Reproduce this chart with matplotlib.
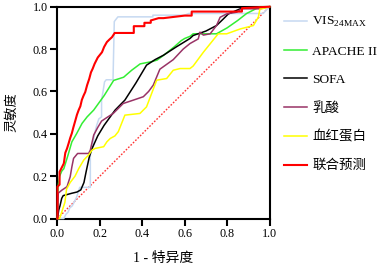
import matplotlib
matplotlib.use("Agg")
import matplotlib.pyplot as plt

plt.rcParams['font.family'] = ['Liberation Serif', 'Noto Sans CJK SC']
plt.rcParams['mathtext.fontset'] = 'custom'
plt.rcParams['mathtext.rm'] = 'Liberation Serif'

labels = [r'VIS$_{\mathregular{24MAX}}$', 'APACHE II', 'SOFA', '乳酸', '血红蛋白', '联合预测']
colors = ['#c6d9f1', '#33ee33', '#000000', '#993366', '#ffff00', '#ff0000']

vis_x = [0, 0.03, 0.04, 0.05, 0.058, 0.07, 0.08, 0.09, 0.105, 0.155, 0.155, 0.165, 0.175, 0.185, 0.195,
         0.208, 0.208, 0.215, 0.222, 0.23, 0.262, 0.268, 0.285, 0.45, 0.45, 0.6, 0.62, 0.97, 1.0]
vis_y = [0, 0, 0.02, 0.03, 0.05, 0.06, 0.08, 0.1, 0.147, 0.147, 0.3, 0.34, 0.4, 0.44, 0.47,
         0.48, 0.56, 0.6, 0.645, 0.655, 0.655, 0.93, 0.952, 0.952, 0.96, 0.96, 0.968, 0.968, 1.0]

apache_x = [0, 0.003, 0.01, 0.021, 0.03, 0.05, 0.068, 0.09, 0.116, 0.14, 0.171, 0.22, 0.265, 0.312, 0.35,
            0.39, 0.446, 0.47, 0.5, 0.55, 0.584, 0.6, 0.625, 0.64, 0.75, 0.8, 0.85, 0.892, 0.955, 1.0]
apache_y = [0, 0.15, 0.2, 0.225, 0.235, 0.3, 0.362, 0.4, 0.449, 0.48, 0.512, 0.58, 0.652, 0.667, 0.7,
            0.73, 0.741, 0.748, 0.77, 0.81, 0.84, 0.85, 0.86, 0.872, 0.872, 0.9, 0.935, 0.968, 1.0, 1.0]

sofa_x = [0, 0.006, 0.012, 0.02, 0.027, 0.067, 0.092, 0.11, 0.125, 0.135, 0.15, 0.163, 0.19, 0.22,
          0.272, 0.318, 0.37, 0.42, 0.46, 0.5, 0.56, 0.625, 0.64, 0.7, 0.75, 0.78, 0.806, 0.869, 0.955, 1.0]
sofa_y = [0, 0.04, 0.06, 0.095, 0.108, 0.119, 0.125, 0.135, 0.17, 0.22, 0.29, 0.33, 0.39, 0.44,
          0.512, 0.559, 0.64, 0.724, 0.75, 0.771, 0.81, 0.85, 0.864, 0.885, 0.911, 0.94, 0.966, 0.993, 0.998, 1.0]

lac_x = [0, 0.004, 0.021, 0.045, 0.06, 0.068, 0.076, 0.095, 0.147, 0.155, 0.171, 0.19, 0.208, 0.235,
         0.263, 0.31, 0.358, 0.405, 0.43, 0.452, 0.483, 0.546, 0.593, 0.625, 0.664, 0.672, 0.688, 0.72,
         0.75, 0.767, 0.798, 0.845, 0.869, 0.955, 1.0]
lac_y = [0, 0.12, 0.134, 0.15, 0.197, 0.244, 0.284, 0.307, 0.307, 0.323, 0.394, 0.43, 0.46, 0.478,
         0.496, 0.543, 0.559, 0.575, 0.6, 0.63, 0.705, 0.75, 0.8, 0.826, 0.848, 0.88, 0.866, 0.872,
         0.911, 0.95, 0.966, 0.974, 0.99, 0.99, 1.0]

hb_x = [0, 0.01, 0.02, 0.035, 0.043, 0.06, 0.083, 0.1, 0.124, 0.147, 0.163, 0.178, 0.218, 0.233,
        0.249, 0.271, 0.287, 0.318, 0.389, 0.42, 0.444, 0.468, 0.515, 0.546, 0.578, 0.625, 0.64,
        0.688, 0.758, 0.798, 0.862, 0.924, 0.947, 0.955, 0.963, 1.0]
hb_y = [0, 0.0, 0.03, 0.076, 0.139, 0.17, 0.2, 0.235, 0.276, 0.3, 0.323, 0.331, 0.339, 0.362,
        0.378, 0.39, 0.41, 0.488, 0.496, 0.527, 0.59, 0.653, 0.661, 0.7, 0.708, 0.708, 0.72,
        0.785, 0.872, 0.872, 0.895, 0.911, 0.95, 0.99, 0.99, 1.0]

comb_x = [0, 0, 0.01, 0.01, 0.02, 0.03, 0.037, 0.045, 0.053, 0.06, 0.068, 0.075, 0.085, 0.092, 0.1,
          0.108, 0.115, 0.123, 0.131, 0.14, 0.15, 0.158, 0.166, 0.175, 0.19, 0.21, 0.22, 0.233, 0.245,
          0.257, 0.27, 0.36, 0.36, 0.41, 0.41, 0.44, 0.44, 0.477, 0.5, 0.55, 0.6, 0.633, 0.633, 0.87,
          0.87, 1.0]
comb_y = [0, 0.15, 0.16, 0.22, 0.24, 0.26, 0.31, 0.33, 0.356, 0.38, 0.403, 0.43, 0.465, 0.49, 0.512,
          0.53, 0.56, 0.58, 0.597, 0.63, 0.66, 0.69, 0.707, 0.73, 0.76, 0.785, 0.81, 0.833, 0.845,
          0.856, 0.876, 0.876, 0.908, 0.908, 0.924, 0.924, 0.935, 0.946, 0.946, 0.952, 0.958, 0.958,
          0.977, 0.977, 0.993, 1.0]

ref_x = [0, 1]
ref_y = [0, 1]

xticks = [0.0, 0.2, 0.4, 0.6, 0.8, 1.0]
yticks = [0.0, 0.2, 0.4, 0.6, 0.8, 1.0]

fig = plt.figure(figsize=(3.78, 2.68), dpi=100)
ax = fig.add_axes([0.152, 0.1847, 0.561, 0.7903])

ax.plot(ref_x, ref_y, color='#ff3333', lw=1.0, linestyle=(0, (1.2, 1.2)))
series = [(vis_x, vis_y), (apache_x, apache_y), (sofa_x, sofa_y), (lac_x, lac_y), (hb_x, hb_y), (comb_x, comb_y)]
handles = []
for (sx, sy), lab, c in zip(series, labels, colors):
    lw = 1.5 if c == '#ff0000' else 1.1
    h, = ax.plot(sx, sy, color=c, lw=lw, label=lab, clip_on=False, zorder=3)
    handles.append(h)

ax.set_xlim(0, 1)
ax.set_ylim(0, 1)
ax.set_xticks(xticks)
ax.set_yticks(yticks)
ax.set_xticklabels([f'{t:.1f}' for t in xticks])
ax.set_yticklabels([f'{t:.1f}' for t in yticks])
for s in ax.spines.values():
    s.set_linewidth(1.5)
ax.tick_params(direction='out', length=5, width=1.5, labelsize=8.7, pad=2)
ax.set_xlabel('1 - 特异度', fontsize=10, labelpad=8)
ax.set_ylabel('灵敏度', fontsize=9.5, labelpad=10)

leg = ax.legend(handles=handles, loc='upper left', bbox_to_anchor=(1.045, 0.985), frameon=False,
                fontsize=9.7, handlelength=1.65, handletextpad=0.4, labelspacing=1.18, borderaxespad=0)

fig.savefig('out.png', dpi=100)
